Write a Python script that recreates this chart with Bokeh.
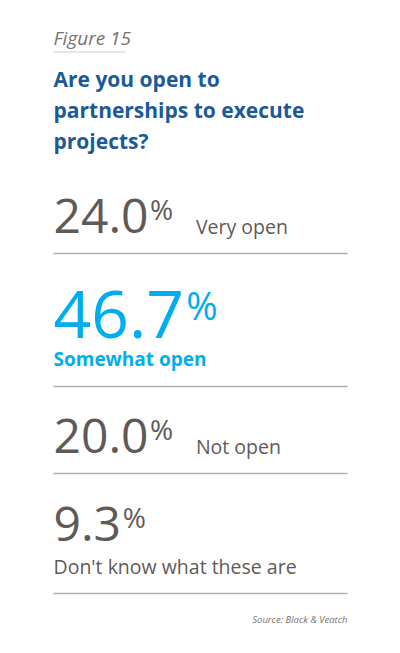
from bokeh.core.properties import value
from bokeh.embed import file_html
from bokeh.models import Range1d
from bokeh.plotting import figure
from bokeh.resources import INLINE

# data
figure_label = "Figure 15"
title_lines = ["Are you open to", "partnerships to execute", "projects?"]
answers = ["Very open", "Somewhat open", "Not open", "Don't know what these are"]
shares = [24.0, 46.7, 20.0, 9.3]
source = "Source: Black & Veatch"

# styles / layout (pixels inside the figure)
W, H = 384, 637
LEFT, RIGHT = 53, 347
GRAY = "#5f5a57"
LIGHT_GRAY = "#77726f"
CYAN = "#00aeef"
BLUE = "#1b5a98"
RULE = "#b3b0ae"
FONT = "Open Sans"
FIX = 0.37  # bokeh draws "alphabetic" text a bit low, pull it up by this * size

row_highlight = [False, True, False, False]
row_label_below = [False, True, False, True]
row_num_baseline = [233, 338, 453, 541]
row_num_size = [48, 66, 48, 48]
row_label_baseline = [233, 366, 453, 573]
row_rule_y = [253, 386, 473, 593]


def num_width(s, size):
    # Open Sans digits are tabular, so width can be estimated per glyph
    w = 0
    for ch in s:
        w += 0.267 * size if ch == "." else 0.572 * size
    return w


def label(x, baseline, txt, size, color, style="normal", align="left"):
    p.text(x=[x], y=[baseline - FIX * size], text=[txt], text_font=value(FONT),
           text_font_size=f"{size}px", text_font_style=style, text_color=color,
           text_align=align, text_baseline="alphabetic")


p = figure(width=W, height=H, output_backend="svg", toolbar_location=None,
           x_range=Range1d(0, W), y_range=Range1d(H, 0), min_border=0)
p.axis.visible = False
p.grid.visible = False
p.outline_line_color = None
p.background_fill_color = "white"

# header
label(LEFT, 45, figure_label, 19, LIGHT_GRAY, "italic")
p.segment(x0=[LEFT], y0=[51.5], x1=[125], y1=[51.5], line_color="#cfcdcb", line_width=1)

for i, line in enumerate(title_lines):
    label(LEFT, 86 + 31 * i, line, 21, BLUE, "bold")

# rows
for i, (ans, v) in enumerate(zip(answers, shares)):
    color = CYAN if row_highlight[i] else GRAY
    size = row_num_size[i]
    num = f"{v:.1f}"
    nw = num_width(num, size)
    label(LEFT, row_num_baseline[i], num, size, color)
    psize = round(size * 0.58)
    px = LEFT + nw + size * 0.03
    label(px, row_num_baseline[i] - size * 0.29, "%", psize, color)
    lx = LEFT if row_label_below[i] else px + psize * 0.85 + 22
    label(lx, row_label_baseline[i], ans, 19.5 if not row_highlight[i] else 19, color,
          "bold" if row_highlight[i] else "normal")
    p.segment(x0=[LEFT], y0=[row_rule_y[i]], x1=[RIGHT], y1=[row_rule_y[i]],
              line_color=RULE, line_width=1.5)

label(RIGHT, 623, source, 9.5, LIGHT_GRAY, "italic", "right")

open("out.html", "w").write(file_html(p, INLINE))
